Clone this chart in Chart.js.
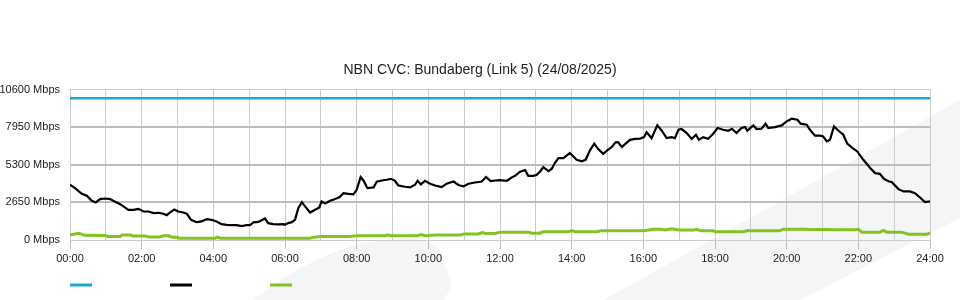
<!DOCTYPE html>
<html>
<head>
<meta charset="utf-8">
<script src="https://cdn.jsdelivr.net/npm/chart.js@4.4.0/dist/chart.umd.min.js"></script>
<style>
  html, body { margin: 0; padding: 0; background: #fff; }
  #wrap { width: 960px; height: 300px; position: relative; }
</style>
</head>
<body>
<div id="wrap"><canvas id="cvc"></canvas></div>
<script>
// values (hours since midnight, Mbps)
const chartTitle = 'NBN CVC: Bundaberg (Link 5) (24/08/2025)';
const yTicks = [0, 2650, 5300, 7950, 10600];
const hourLabels = ['00:00', '02:00', '04:00', '06:00', '08:00', '10:00', '12:00',
    '14:00', '16:00', '18:00', '20:00', '22:00', '24:00'];

const capacityHours = [0, 24];
const capacityMbps = [10000, 10000];

const trafficHours = [0.00, 0.14, 0.33, 0.47, 0.60, 0.72, 0.84, 0.98, 1.12, 1.26, 1.40, 1.53, 1.63, 1.77, 1.91,
    2.05, 2.19, 2.33, 2.47, 2.60, 2.70, 2.79, 2.91, 3.02, 3.16, 3.26, 3.38, 3.53, 3.67, 3.81, 3.95,
    4.09, 4.23, 4.37, 4.51, 4.65, 4.79, 4.93, 5.02, 5.12, 5.26, 5.44, 5.53, 5.67, 5.81, 5.95,
    6.00, 6.09, 6.19, 6.28, 6.37, 6.47, 6.56, 6.70, 6.84, 6.96, 7.02, 7.12, 7.26, 7.40, 7.53, 7.63,
    7.77, 7.91, 8.00, 8.11, 8.19, 8.30, 8.47, 8.56, 8.70, 8.84, 8.96, 9.07, 9.16, 9.35, 9.49, 9.63,
    9.70, 9.79, 9.91, 10.05, 10.19, 10.37, 10.51, 10.70, 10.84, 10.98, 11.12, 11.30, 11.49, 11.61,
    11.74, 11.86, 12.00, 12.19, 12.33, 12.42, 12.56, 12.70, 12.79, 12.93, 13.02, 13.12, 13.21, 13.35,
    13.44, 13.53, 13.63, 13.77, 13.95, 14.14, 14.28, 14.39, 14.51, 14.63, 14.74, 14.88, 15.02, 15.12,
    15.23, 15.30, 15.40, 15.49, 15.63, 15.77, 15.91, 16.02, 16.09, 16.23, 16.39, 16.51, 16.65, 16.79,
    16.88, 16.98, 17.07, 17.21, 17.35, 17.47, 17.55, 17.67, 17.81, 17.95, 18.07, 18.23, 18.37, 18.47,
    18.60, 18.74, 18.84, 18.90, 19.07, 19.16, 19.30, 19.41, 19.49, 19.67, 19.86, 20.00, 20.14, 20.30,
    20.39, 20.56, 20.65, 20.79, 20.93, 21.02, 21.12, 21.21, 21.32, 21.44, 21.58, 21.69, 21.86, 21.97,
    22.14, 22.33, 22.47, 22.60, 22.72, 22.86, 22.93, 23.12, 23.26, 23.44, 23.58, 23.72, 23.86, 24.00];
const trafficMbps = [3900, 3660, 3260, 3120, 2790, 2650, 2890, 2930, 2890, 2700, 2530, 2300, 2130, 2130, 2200,
    2010, 2010, 1900, 1920, 1850, 1755, 1940, 2155, 2010, 1940, 1850, 1425, 1260, 1310, 1470, 1425,
    1310, 1120, 1070, 1050, 1050, 980, 1050, 1050, 1240, 1280, 1520, 1190, 1120, 1100, 1120,
    1070, 1190, 1260, 1425, 2250, 2670, 2370, 1940, 2130, 2300, 2720, 2580, 2770, 2890, 3030, 3310,
    3260, 3220, 3545, 4440, 4200, 3660, 3710, 4110, 4200, 4250, 4320, 4180, 3850, 3760, 3710, 3900,
    4180, 3920, 4180, 3970, 3850, 3730, 3970, 4130, 3880, 3780, 3970, 4060, 4130, 4440,
    4160, 4200, 4230, 4180, 4420, 4530, 4820, 4940, 4530, 4530, 4580, 4840, 5150, 4860,
    5010, 5430, 5780, 5780, 6140, 5660, 5550, 5660, 6330, 6800, 6420, 6090, 6370, 6560,
    6910, 6890, 6560, 6770, 7070, 7140, 7160, 7260, 7610, 7190, 8090, 7730, 7190, 7260,
    7190, 7780, 7830, 7550, 7130, 7430, 7070, 7260, 7140, 7500, 7900, 7780, 7710, 7850,
    7550, 7900, 7970, 7710, 8090, 7830, 7850, 8210, 7900, 7970, 8090, 8370, 8560, 8490,
    8210, 8140, 7780, 7360, 7360, 7310, 6960, 7070, 8020, 7730, 7430, 6800, 6440, 6250,
    5660, 5080, 4720, 4670, 4300, 4130, 4090, 3590, 3430, 3430, 3310, 3000, 2670, 2720];

const upHours = [0.00, 0.14, 0.25, 0.40, 0.98, 1.05, 1.40, 1.45, 1.70, 1.75, 2.10, 2.20, 2.50, 2.60, 2.75,
    2.85, 3.00, 3.05, 4.05, 4.10, 4.20, 6.70, 6.80, 7.00, 7.80, 8.00, 8.80, 8.85, 8.95, 9.70, 9.80,
    9.90, 10.20, 10.90, 11.00, 11.40, 11.50, 11.60, 11.90, 12.00, 12.80, 12.90, 13.10, 13.20, 13.90,
    14.00, 14.10, 14.70, 14.80, 16.00, 16.30, 16.50, 16.60, 16.80, 17.00, 17.40, 17.50, 17.60, 17.95,
    18.00, 18.80, 18.90, 19.00, 19.80, 19.90, 20.50, 20.60, 21.20, 21.30, 21.90, 22.00, 22.10, 22.60,
    22.70, 22.80, 23.20, 23.40, 23.90, 24.00];
const upMbps = [360, 420, 480, 330, 320, 250, 250, 360, 360, 290, 290, 220, 220, 300, 300,
    200, 200, 120, 120, 200, 120, 120, 200, 250, 250, 300, 300, 360, 300, 300, 390,
    300, 360, 360, 430, 430, 530, 460, 480, 555, 555, 480, 480, 575, 575,
    670, 575, 575, 650, 650, 760, 760, 700, 790, 700, 700, 760, 650, 650,
    575, 575, 670, 650, 650, 765, 765, 740, 740, 720, 720, 760, 555, 555,
    670, 555, 555, 410, 410, 480];

function points(hours, values) {
    return hours.map((h, i) => ({ x: h, y: values[i] }));
}

const backdrop = {
    id: 'backdrop',
    beforeDraw(chart) {
        // faint logo shapes behind the graph
        const c = chart.ctx;
        c.save();
        c.fillStyle = '#fff';
        c.fillRect(0, 0, chart.width, chart.height);
        c.fillStyle = '#f4f5f7';
        c.beginPath();
        c.moveTo(604, 300);
        c.lineTo(960, 100);
        c.lineTo(960, 218);
        c.lineTo(800, 300);
        c.closePath();
        c.fill();
        c.beginPath();
        c.moveTo(253, 300);
        c.quadraticCurveTo(320, 248, 380, 240);
        c.quadraticCurveTo(425, 234, 440, 250);
        c.lineTo(452, 285);
        c.lineTo(444, 300);
        c.closePath();
        c.fill();
        c.restore();
    },
    afterDraw(chart) {
        // legend swatches without text
        const c = chart.ctx;
        c.save();
        c.lineWidth = 3;
        chart.data.datasets.forEach((ds, i) => {
            c.strokeStyle = ds.borderColor;
            c.beginPath();
            c.moveTo(70 + i * 100, 285);
            c.lineTo(92 + i * 100, 285);
            c.stroke();
        });
        c.restore();
    }
};

Chart.defaults.font.family = '"Liberation Sans", Arial, sans-serif';
Chart.defaults.font.size = 11;
Chart.defaults.color = '#222';

new Chart(document.getElementById('cvc'), {
    type: 'line',
    data: {
        datasets: [{
            label: 'Capacity',
            data: points(capacityHours, capacityMbps),
            borderColor: '#1ea4df',
            borderWidth: 2.5
        }, {
            label: 'Traffic',
            data: points(trafficHours, trafficMbps),
            borderColor: '#000',
            borderWidth: 2.2
        }, {
            label: 'Upload',
            data: points(upHours, upMbps),
            borderColor: '#82c31f',
            borderWidth: 3
        }]
    },
    options: {
        responsive: true,
        maintainAspectRatio: false,
        animation: false,
        elements: { point: { radius: 0 }, line: { tension: 0 } },
        layout: { padding: 0 },
        plugins: {
            legend: { display: false },
            tooltip: { enabled: false },
            title: {
                display: true,
                text: chartTitle,
                color: '#222',
                font: { size: 14, weight: 'normal' },
                padding: { top: 62, bottom: 11 }
            }
        },
        scales: {
            x: {
                type: 'linear',
                min: 0,
                max: 24,
                afterBuildTicks: (axis) => {
                    axis.ticks = [];
                    for (let h = 0; h <= 24; h++) axis.ticks.push({ value: h });
                },
                afterFit: (axis) => { axis.height = 60; },
                ticks: {
                    autoSkip: false,
                    maxRotation: 0,
                    padding: 3,
                    color: '#222',
                    callback: (v) => (v % 2 === 0 ? hourLabels[v / 2] : '')
                },
                grid: {
                    color: '#cccccc',
                    lineWidth: 1,
                    tickLength: 9,
                    tickColor: (ctx) => (ctx.tick && ctx.tick.value % 2 === 0 ? '#bbbbbb' : 'rgba(0,0,0,0)')
                },
                border: { color: '#cccccc' }
            },
            y: {
                min: 0,
                max: 10600,
                afterBuildTicks: (axis) => {
                    axis.ticks = yTicks.map((v) => ({ value: v }));
                },
                afterFit: (axis) => { axis.width = 70; },
                ticks: {
                    padding: 10,
                    color: '#222',
                    callback: (v) => v + ' Mbps'
                },
                grid: {
                    drawTicks: false,
                    color: (ctx) => (ctx.tick && (ctx.tick.value === 0 || ctx.tick.value === 10600) ? '#cccccc' : '#bdbdbd'),
                    lineWidth: (ctx) => (ctx.tick && (ctx.tick.value === 0 || ctx.tick.value === 10600) ? 1 : 2)
                },
                border: { color: '#cccccc' }
            },
            // empty right-hand axis, only keeps the 30px margin so the title stays centred
            spacer: {
                position: 'right',
                afterFit: (axis) => { axis.width = 30; },
                ticks: { display: false },
                grid: { display: false },
                border: { display: false }
            }
        }
    },
    plugins: [backdrop]
});
</script>
</body>
</html>
